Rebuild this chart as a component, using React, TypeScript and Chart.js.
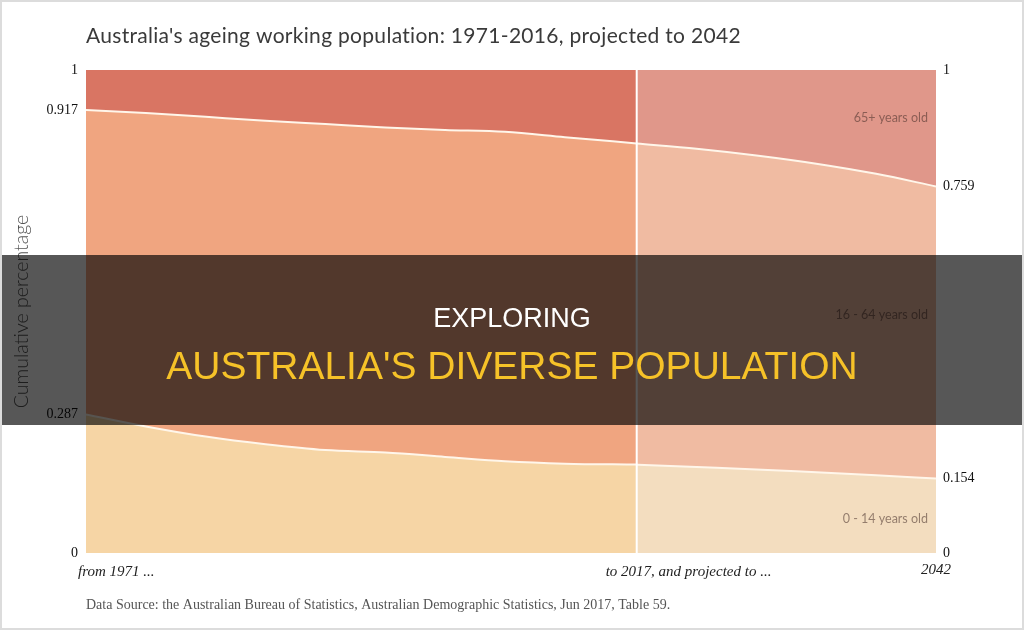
import React, { useEffect, useRef } from "react";
import { Chart, registerables } from "chart.js";

Chart.register(...registerables);

// ---- Data ----
const histYears = [1971, 1976, 1981, 1986, 1991, 1996, 2001, 2006, 2011, 2017];
const histChildCum = [0.287, 0.262, 0.241, 0.225, 0.213, 0.208, 0.199, 0.19, 0.185, 0.183];
const histWorkingCum = [0.917, 0.911, 0.903, 0.895, 0.888, 0.881, 0.876, 0.872, 0.861, 0.848];

const projYears = [2017, 2022, 2027, 2032, 2037, 2042];
const projChildCum = [0.183, 0.178, 0.173, 0.167, 0.161, 0.154];
const projWorkingCum = [0.848, 0.837, 0.823, 0.806, 0.785, 0.759];

const leftTicks = [0, 0.287, 0.917, 1];
const rightTicks = [0, 0.154, 0.759, 1];
const splitYear = 2017;

const groupLabels = ["65+ years old", "16 - 64 years old", "0 - 14 years old"];
const groupLabelValues = [0.9, 0.493, 0.07];

const titleText = "Australia's ageing working population: 1971-2016, projected to 2042";
const xLabels = ["from 1971 ...", "to 2017, and projected to ...", "2042"];
const sourceText =
  "Data Source: the Australian Bureau of Statistics, Australian Demographic Statistics, Jun 2017, Table 59.";

const histColors = ["#F6D5A5", "#F0A580", "#D97563"];
const projColors = ["#F3DDBF", "#F0BBA2", "#E0978A"];

const pts = (xs: number[], ys: number[]) => xs.map((x, i) => ({ x, y: ys[i] }));
const ones = (xs: number[]) => xs.map(() => 1);

const textPlugin = {
  id: "textPlugin",
  afterDraw(chart: any) {
    const { ctx, chartArea, scales } = chart;
    const xs = scales.x;
    const ys = scales.y;
    ctx.save();
    // title
    ctx.fillStyle = "#3a3a3a";
    ctx.textBaseline = "middle";
    ctx.textAlign = "left";
    ctx.font = "400 21px Lato, 'Open Sans', sans-serif";
    try {
      (ctx as any).letterSpacing = "0.3px";
    } catch (e) {}
    ctx.fillText(titleText, chartArea.left, 36);
    try {
      (ctx as any).letterSpacing = "0px";
    } catch (e) {}

    // group labels
    ctx.font = "400 12.5px Lato, 'Open Sans', sans-serif";
    ctx.fillStyle = "rgba(70,45,40,0.55)";
    ctx.textAlign = "right";
    const rx = xs.getPixelForValue(projYears[projYears.length - 1]) - 8;
    groupLabels.forEach((t, i) => ctx.fillText(t, rx, ys.getPixelForValue(groupLabelValues[i])));

    // x labels
    ctx.font = "italic 15px 'Liberation Serif', serif";
    ctx.fillStyle = "#222";
    ctx.textAlign = "left";
    ctx.fillText(xLabels[0], xs.getPixelForValue(histYears[0]) - 8, 572);
    ctx.fillText(xLabels[1], xs.getPixelForValue(splitYear) - 31, 572);
    ctx.textAlign = "center";
    ctx.fillText(xLabels[2], xs.getPixelForValue(projYears[projYears.length - 1]), 570);

    // source
    ctx.font = "14px 'Liberation Serif', serif";
    ctx.fillStyle = "#555";
    ctx.textAlign = "left";
    ctx.fillText(sourceText, chartArea.left, 605);
    ctx.restore();
  },
};

export default function App() {
  const canvasRef = useRef<HTMLCanvasElement | null>(null);

  useEffect(() => {
    if (!canvasRef.current) return;
    const lineStyle = {
      borderColor: "#FFF6EA",
      borderWidth: 2,
      pointRadius: 0,
      cubicInterpolationMode: "monotone" as const,
    };
    const chart = new Chart(canvasRef.current, {
      type: "line",
      data: {
        datasets: [
          { label: "0-14 hist", data: pts(histYears, histChildCum), backgroundColor: histColors[0], fill: "origin", ...lineStyle },
          { label: "16-64 hist", data: pts(histYears, histWorkingCum), backgroundColor: histColors[1], fill: "-1", ...lineStyle },
          { label: "65+ hist", data: pts(histYears, ones(histYears)), backgroundColor: histColors[2], fill: "-1", ...lineStyle, borderWidth: 0 },
          { label: "0-14 proj", data: pts(projYears, projChildCum), backgroundColor: projColors[0], fill: "origin", ...lineStyle },
          { label: "16-64 proj", data: pts(projYears, projWorkingCum), backgroundColor: projColors[1], fill: "-1", ...lineStyle },
          { label: "65+ proj", data: pts(projYears, ones(projYears)), backgroundColor: projColors[2], fill: "-1", ...lineStyle, borderWidth: 0 },
          {
            label: "divider",
            data: [{ x: splitYear, y: 0 }, { x: splitYear, y: 1 }],
            borderColor: "#ffffff",
            borderWidth: 2,
            pointRadius: 0,
            fill: false,
            order: -1,
          },
        ],
      },
      options: {
        animation: false,
        responsive: false,
        events: [],
        layout: { padding: { top: 70, bottom: 77, left: 0, right: 0 } },
        plugins: { legend: { display: false }, tooltip: { enabled: false }, title: { display: false } },
        scales: {
          x: { type: "linear", min: 1971, max: 2042, display: false },
          y: {
            type: "linear",
            position: "left",
            min: 0,
            max: 1,
            grid: { display: false, drawTicks: false },
            border: { display: false },
            afterBuildTicks: (s: any) => {
              s.ticks = leftTicks.map((v) => ({ value: v }));
            },
            afterFit: (s: any) => {
              s.width = 86;
            },
            ticks: {
              padding: 8,
              color: "#111",
              font: { family: "'Liberation Serif', serif", size: 14 },
              callback: (v: any) => String(v),
            },
            title: {
              display: true,
              text: "Cumulative percentage",
              color: "#555",
              font: { family: "Lato, 'Open Sans', sans-serif", size: 19.5, weight: "300" },
              padding: { top: 10, bottom: 0 },
            },
          },
          y2: {
            type: "linear",
            position: "right",
            min: 0,
            max: 1,
            grid: { display: false, drawTicks: false },
            border: { display: false },
            afterBuildTicks: (s: any) => {
              s.ticks = rightTicks.map((v) => ({ value: v }));
            },
            afterFit: (s: any) => {
              s.width = 88;
            },
            ticks: {
              padding: 7,
              color: "#111",
              font: { family: "'Liberation Serif', serif", size: 14 },
              callback: (v: any) => String(v),
            },
          },
        },
      },
      plugins: [textPlugin],
    });
    return () => chart.destroy();
  }, []);

  return (
    <div style={{ position: "fixed", left: 0, top: 0, width: 1024, height: 630, background: "#fff", overflow: "hidden" }}>
      <canvas ref={canvasRef} width={1024} height={630} style={{ display: "block" }} />
      <div
        style={{
          position: "absolute",
          left: 0,
          top: 255,
          width: 1024,
          height: 170,
          background: "rgba(0,0,0,0.66)",
          textAlign: "center",
          fontFamily: "'Liberation Sans', Arial, sans-serif",
        }}
      >
        <div style={{ position: "absolute", left: 0, right: 0, top: 63, transform: "translateY(-50%)", color: "#ffffff", fontSize: 27, lineHeight: "30px" }}>
          EXPLORING
        </div>
        <div style={{ position: "absolute", left: 0, right: 0, top: 111, transform: "translateY(-50%)", color: "#F6C228", fontSize: 39, lineHeight: "44px" }}>
          AUSTRALIA'S DIVERSE POPULATION
        </div>
      </div>
      <div style={{ position: "absolute", inset: 0, border: "2px solid #dcdcdc", pointerEvents: "none" }} />
    </div>
  );
}
